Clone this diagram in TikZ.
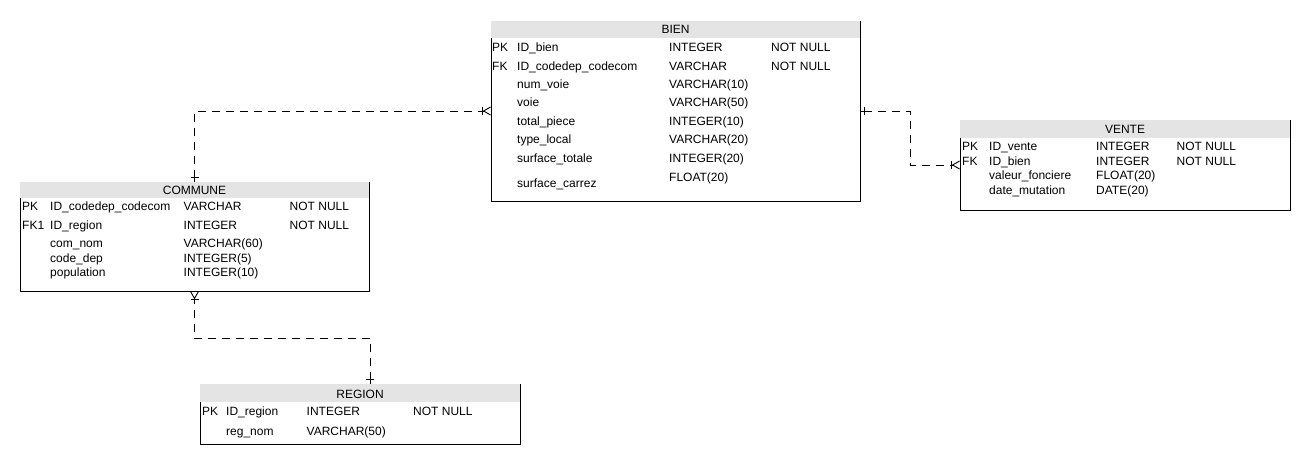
\documentclass[tikz,border=0pt]{standalone}
\usepackage{fontspec}
\setmainfont{Liberation Sans}
\usepackage{xcolor}
\usetikzlibrary{arrows.meta,positioning}
\definecolor{hdrgray}{HTML}{E4E4E4}
% frame of one table: node name, header height
\newcommand{\tblframe}[2]{%
  \fill[hdrgray] (#1.north west) rectangle ([yshift=-#2]#1.north east);
  \draw[line width=1pt] ([yshift=-#2]#1.north west) |- (#1.south east) -- (#1.north east);
}
\tikzset{
  one/.tip={Bar[width=8pt,line width=0.9pt] Square[length=4pt,width=0.9pt,line width=0pt]},
  many/.tip={Bar[width=8pt,line width=0.9pt] Straight Barb[reversed,length=7pt,width=8pt,line width=0.9pt]},
}

\begin{document}
\begin{tikzpicture}[x=1pt,y=-1pt,font=\fontsize{12}{14}\selectfont,
  tbl/.style={inner sep=0pt,outer sep=0pt},
  cell/.style={anchor=base west,inner sep=0pt},
  conn/.style={line width=0.9pt,dash pattern=on 8pt off 6pt}]
\useasboundingbox (0,0) rectangle (1311,466);

% tables
\node (bien) [tbl, minimum width=369pt, minimum height=180pt] at (675.5,111) {};
\node (commune) [tbl, minimum width=349pt, minimum height=109.5pt] at (194.5,236.25) {};
\node (vente) [tbl, minimum width=330pt, minimum height=90pt] at (1125,165) {};
\node (region) [tbl, minimum width=320pt, minimum height=60pt] at (360,414) {};

\tblframe{bien}{16.5pt}
\tblframe{commune}{16.5pt}
\tblframe{vente}{17.5pt}
\tblframe{region}{18pt}

\node (bien-title) [cell, anchor=base] at (675.5,33.5) {BIEN};
\node (commune-title) [cell, anchor=base] at (194.5,194) {COMMUNE};
\node (vente-title) [cell, anchor=base] at (1125,133) {VENTE};
\node (region-title) [cell, anchor=base] at (360,398) {REGION};

% rows
\foreach \y/\k/\f/\t/\n in {51/PK/ID\_bien/INTEGER/NOT NULL,
    70/FK/ID\_codedep\_codecom/VARCHAR/NOT NULL,
    88.5//num\_voie/VARCHAR(10)/,
    106.5//voie/VARCHAR(50)/,
    125//total\_piece/INTEGER(10)/,
    143//type\_local/VARCHAR(20)/,
    162//surface\_totale/INTEGER(20)/,
    181//{}/FLOAT(20)/}{
  \node (bien-k\y) [cell] at (492,\y) {\k};
  \node (bien-f\y) [cell] at (517,\y) {\f};
  \node (bien-t\y) [cell] at (669,\y) {\t};
  \node (bien-n\y) [cell] at (771,\y) {\n};
}
\node (bien-carrez) [cell] at (517,187.5) {surface\_carrez};

\foreach \y/\k/\f/\t/\n in {210.5/PK/ID\_codedep\_codecom/VARCHAR/NOT NULL,
    229.5/FK1/ID\_region/INTEGER/NOT NULL,
    247.5//com\_nom/VARCHAR(60)/,
    262//code\_dep/INTEGER(5)/,
    276.5//population/INTEGER(10)/}{
  \node (commune-k\y) [cell] at (22,\y) {\k};
  \node (commune-f\y) [cell] at (50,\y) {\f};
  \node (commune-t\y) [cell] at (183.5,\y) {\t};
  \node (commune-n\y) [cell] at (289.5,\y) {\n};
}

\foreach \y/\k/\f/\t/\n in {150.5/PK/ID\_vente/INTEGER/NOT NULL,
    165.5/FK/ID\_bien/INTEGER/NOT NULL,
    179.5//valeur\_fonciere/FLOAT(20)/,
    194.5//date\_mutation/DATE(20)/}{
  \node (vente-k\y) [cell] at (962,\y) {\k};
  \node (vente-f\y) [cell] at (989,\y) {\f};
  \node (vente-t\y) [cell] at (1096,\y) {\t};
  \node (vente-n\y) [cell] at (1176.5,\y) {\n};
}

\foreach \y/\k/\f/\t/\n in {415.5/PK/ID\_region/INTEGER/NOT NULL,
    435.5//reg\_nom/VARCHAR(50)/}{
  \node (region-k\y) [cell] at (202,\y) {\k};
  \node (region-f\y) [cell] at (226,\y) {\f};
  \node (region-t\y) [cell] at (306.5,\y) {\t};
  \node (region-n\y) [cell] at (413,\y) {\n};
}

% relations
\draw[conn, {one}-{many}] (commune.north) |- (bien.west);
\draw[conn, {one}-{many}] (bien.east) -- (bien.east -| 910.5,0) |- (vente.west);
\draw[conn, {one}-{many}] ([xshift=170pt]region.north west) -- ++(0,-45.5) -| (commune.south);
\end{tikzpicture}
\end{document}
